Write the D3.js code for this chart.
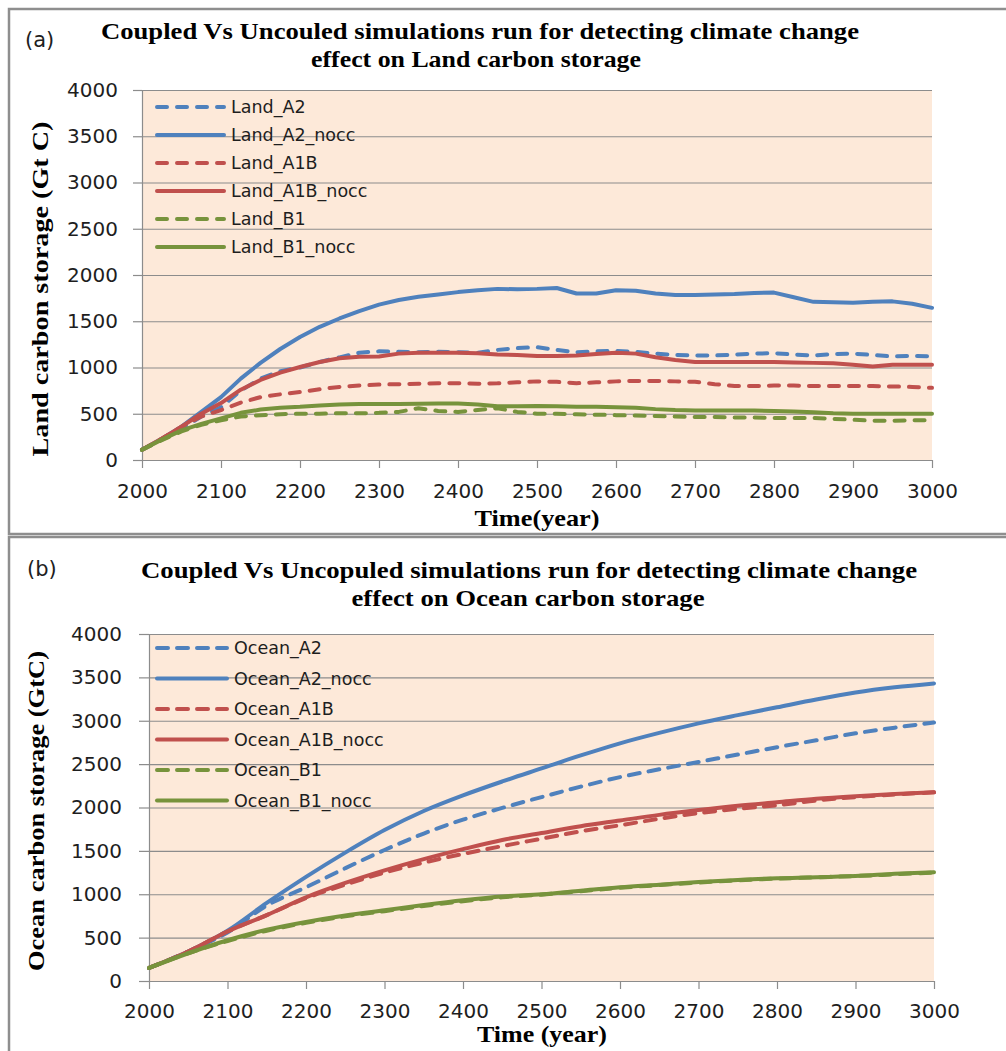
<!DOCTYPE html>
<html>
<head>
<meta charset="utf-8">
<script src="https://cdn.jsdelivr.net/npm/d3@7"></script>
<style>
  body { margin: 0; background: #ffffff; }
  svg { display: block; }
</style>
</head>
<body>
<svg id="chart" width="1006" height="1051"></svg>
<script>
// ---- Shared tick labels ----
const yTicks = [0, 500, 1000, 1500, 2000, 2500, 3000, 3500, 4000];
const xTicks = [2000, 2100, 2200, 2300, 2400, 2500, 2600, 2700, 2800, 2900, 3000];

// ---- Land carbon storage (Gt C), every 25 years ----
const landYears = [2000, 2025, 2050, 2075, 2100, 2125, 2150, 2175, 2200, 2225, 2250,
  2275, 2300, 2325, 2350, 2375, 2400, 2425, 2450, 2475, 2500, 2525, 2550, 2575, 2600,
  2625, 2650, 2675, 2700, 2725, 2750, 2775, 2800, 2825, 2850, 2875, 2900, 2925, 2950,
  2975, 3000];
const landNames = ["Land_A2", "Land_A2_nocc", "Land_A1B", "Land_A1B_nocc", "Land_B1", "Land_B1_nocc"];
const landA2 = [110, 220, 340, 470, 570, 750, 880, 960, 1000, 1060, 1110, 1160, 1175, 1170,
  1165, 1170, 1165, 1160, 1190, 1210, 1220, 1190, 1165, 1175, 1180, 1170, 1150, 1135, 1130,
  1130, 1140, 1150, 1155, 1140, 1130, 1145, 1150, 1135, 1120, 1125, 1120];
const landA2nocc = [110, 230, 360, 520, 680, 880, 1050, 1200, 1330, 1440, 1530, 1610, 1680,
  1730, 1765, 1790, 1815, 1835, 1850, 1845, 1850, 1860, 1800, 1800, 1835, 1830, 1800, 1785,
  1785, 1790, 1795, 1805, 1810, 1760, 1710, 1705, 1700, 1710, 1715, 1690, 1645];
const landA1B = [110, 230, 360, 470, 540, 620, 680, 710, 735, 765, 790, 805, 815, 820, 825,
  830, 830, 825, 830, 840, 850, 845, 830, 840, 850, 855, 855, 850, 845, 820, 800, 800, 805,
  805, 800, 800, 800, 800, 795, 790, 780];
const landA1Bnocc = [110, 230, 360, 500, 615, 760, 865, 945, 1005, 1060, 1100, 1115, 1120,
  1150, 1160, 1160, 1160, 1155, 1140, 1135, 1125, 1125, 1130, 1145, 1160, 1150, 1110, 1080,
  1060, 1060, 1060, 1060, 1060, 1055, 1050, 1045, 1030, 1010, 1030, 1030, 1030];
const landB1 = [110, 215, 310, 380, 430, 470, 485, 495, 500, 500, 505, 505, 510, 520, 560,
  530, 520, 540, 560, 520, 500, 500, 495, 490, 485, 480, 475, 470, 465, 465, 460, 460, 455,
  455, 455, 445, 435, 425, 425, 430, 430];
const landB1nocc = [110, 220, 320, 390, 450, 510, 545, 565, 575, 590, 600, 605, 605, 605,
  608, 610, 610, 600, 580, 580, 585, 580, 575, 575, 570, 565, 550, 540, 535, 535, 535, 535,
  530, 525, 515, 505, 500, 500, 500, 500, 500];

// ---- Ocean carbon storage (GtC), every 50 years ----
const oceanYears = [2000, 2050, 2100, 2150, 2200, 2250, 2300, 2350, 2400, 2450, 2500,
  2550, 2600, 2650, 2700, 2750, 2800, 2850, 2900, 2950, 3000];
const oceanNames = ["Ocean_A2", "Ocean_A2_nocc", "Ocean_A1B", "Ocean_A1B_nocc", "Ocean_B1", "Ocean_B1_nocc"];
const oceanA2 = [150, 340, 560, 870, 1080, 1300, 1510, 1700, 1860, 1995, 2120, 2240, 2350,
  2440, 2525, 2610, 2695, 2775, 2855, 2920, 2980];
const oceanA2nocc = [150, 340, 580, 900, 1200, 1480, 1740, 1960, 2140, 2300, 2450, 2600,
  2740, 2860, 2970, 3065, 3155, 3245, 3325, 3385, 3430];
const oceanA1B = [150, 340, 570, 760, 955, 1110, 1250, 1365, 1465, 1555, 1640, 1725, 1795,
  1870, 1935, 1985, 2025, 2080, 2120, 2150, 2175];
const oceanA1Bnocc = [150, 340, 570, 760, 965, 1130, 1275, 1405, 1520, 1625, 1705, 1785,
  1850, 1915, 1970, 2020, 2060, 2100, 2130, 2155, 2175];
const oceanB1 = [150, 320, 460, 580, 670, 745, 805, 865, 920, 965, 995, 1035, 1075, 1105,
  1135, 1160, 1180, 1195, 1210, 1230, 1250];
const oceanB1nocc = [150, 320, 470, 590, 680, 755, 815, 875, 930, 975, 1000, 1040, 1080,
  1110, 1140, 1165, 1185, 1195, 1210, 1235, 1255];

// Series styling: colour per scenario, dashed = coupled run, solid = no climate feedback
const seriesColors = ["#4f81bd", "#4f81bd", "#c0504d", "#c0504d", "#77933c", "#77933c"];
const seriesDashed = [true, false, true, false, true, false];

const svg = d3.select("#chart");
const GRID = "#8c8c8c";
const TEXT = "#1e1e1e";
const SANS = "'DejaVu Sans', sans-serif";
const SERIF = "'Liberation Serif', 'Times New Roman', serif";

// Panel frames
svg.append("rect").attr("x", 9).attr("y", 9).attr("width", 1100).attr("height", 525)
  .attr("fill", "none").attr("stroke", "#8e8e8e").attr("stroke-width", 2.5);
svg.append("rect").attr("x", 9).attr("y", 537).attr("width", 1100).attr("height", 600)
  .attr("fill", "none").attr("stroke", "#8e8e8e").attr("stroke-width", 2.5);

function drawPanel(cfg) {
  const g = svg.append("g");
  const x = d3.scaleLinear().domain([2000, 3000]).range([cfg.left, cfg.right]);
  const y = d3.scaleLinear().domain([0, 4000]).range([cfg.bottom, cfg.top]);

  // plot area
  g.append("rect")
    .attr("x", cfg.left).attr("y", cfg.top)
    .attr("width", cfg.right - cfg.left).attr("height", cfg.bottom - cfg.top)
    .attr("fill", "#fde9d9");

  // horizontal gridlines
  g.append("g").selectAll("line").data(yTicks.filter(d => d > 0)).join("line")
    .attr("x1", cfg.left).attr("x2", cfg.right)
    .attr("y1", d => y(d) + 0.5).attr("y2", d => y(d) + 0.5)
    .attr("stroke", GRID).attr("stroke-width", 1.2);

  // y axis
  const ya = g.append("g").attr("transform", `translate(${cfg.left},0)`)
    .call(d3.axisLeft(y).tickValues(yTicks).tickSize(cfg.yTickSize)
      .tickSizeOuter(0).tickPadding(cfg.yPad).tickFormat(d3.format("d")));
  ya.selectAll("path, line").attr("stroke", GRID).attr("stroke-width", 1.2);
  ya.selectAll("text").attr("font-family", SANS).attr("font-size", cfg.tickFont)
    .attr("fill", TEXT);

  // x axis
  const xa = g.append("g").attr("transform", `translate(0,${cfg.bottom})`)
    .call(d3.axisBottom(x).tickValues(xTicks).tickSize(cfg.xTickSize)
      .tickSizeOuter(0).tickPadding(cfg.xPad).tickFormat(d3.format("d")));
  xa.selectAll("path, line").attr("stroke", GRID).attr("stroke-width", 1.2);
  xa.selectAll("text").attr("font-family", SANS).attr("font-size", cfg.tickFont)
    .attr("fill", TEXT);

  // series lines
  const line = d3.line().x((d, i) => x(cfg.years[i])).y(d => y(d)).curve(cfg.curve);
  cfg.series.forEach((vals, i) => {
    g.append("path").datum(vals)
      .attr("d", line)
      .attr("fill", "none")
      .attr("stroke", seriesColors[i])
      .attr("stroke-width", 4)
      .attr("stroke-linecap", "round")
      .attr("stroke-linejoin", "round")
      .attr("stroke-dasharray", seriesDashed[i] ? cfg.dash : null);
  });

  // legend
  const lg = g.append("g");
  cfg.names.forEach((name, i) => {
    const ly = cfg.legendY + i * cfg.legendStep;
    lg.append("line")
      .attr("x1", cfg.legendX).attr("x2", cfg.legendX + cfg.legendLen)
      .attr("y1", ly).attr("y2", ly)
      .attr("stroke", seriesColors[i]).attr("stroke-width", 4)
      .attr("stroke-linecap", "round")
      .attr("stroke-dasharray", seriesDashed[i] ? cfg.dash : null);
    lg.append("text")
      .attr("x", cfg.legendX + cfg.legendLen + 7).attr("y", ly)
      .attr("dy", "0.36em")
      .attr("font-family", SANS).attr("font-size", cfg.legendFont)
      .attr("fill", TEXT).text(name);
  });

  // titles
  cfg.title.forEach(t => {
    g.append("text").attr("x", t.x).attr("y", t.y)
      .attr("text-anchor", "middle")
      .attr("font-family", SERIF).attr("font-weight", "bold").attr("font-size", 24)
      .attr("textLength", t.len).attr("lengthAdjust", "spacingAndGlyphs")
      .attr("fill", "#000").text(t.text);
  });
  g.append("text").attr("x", cfg.tag.x).attr("y", cfg.tag.y)
    .attr("font-family", SANS).attr("font-size", 21).attr("fill", TEXT)
    .text(cfg.tag.text);

  // axis titles
  g.append("text").attr("x", cfg.xTitle.x).attr("y", cfg.xTitle.y)
    .attr("text-anchor", "middle")
    .attr("font-family", SERIF).attr("font-weight", "bold").attr("font-size", 23)
    .attr("textLength", cfg.xTitle.len).attr("lengthAdjust", "spacingAndGlyphs")
    .attr("fill", "#000").text(cfg.xTitle.text);
  g.append("text")
    .attr("transform", `translate(${cfg.yTitle.x},${cfg.yTitle.y}) rotate(-90)`)
    .attr("text-anchor", "middle")
    .attr("font-family", SERIF).attr("font-weight", "bold").attr("font-size", 24)
    .attr("textLength", cfg.yTitle.len).attr("lengthAdjust", "spacingAndGlyphs")
    .attr("fill", "#000").text(cfg.yTitle.text);
}

drawPanel({
  left: 142, right: 932, top: 90, bottom: 460,
  yTickSize: 9, yPad: 15, xTickSize: 8, xPad: 16, tickFont: 20,
  years: landYears,
  series: [landA2, landA2nocc, landA1B, landA1Bnocc, landB1, landB1nocc],
  names: landNames,
  curve: d3.curveLinear,
  dash: "10 10",
  legendX: 157, legendLen: 67, legendY: 107, legendStep: 28, legendFont: 17.5,
  title: [
    { text: "Coupled Vs Uncouled simulations  run  for detecting climate change", x: 480, y: 39, len: 758 },
    { text: "effect on Land carbon storage", x: 476, y: 67, len: 330 }
  ],
  tag: { text: "(a)", x: 25, y: 47 },
  xTitle: { text: "Time(year)", x: 537, y: 526, len: 125 },
  yTitle: { text: "Land carbon storage (Gt C)", x: 48, y: 289, len: 335 }
});

drawPanel({
  left: 149, right: 934, top: 634, bottom: 981,
  yTickSize: 10, yPad: 17, xTickSize: 8, xPad: 15, tickFont: 20,
  years: oceanYears,
  series: [oceanA2, oceanA2nocc, oceanA1B, oceanA1Bnocc, oceanB1, oceanB1nocc],
  names: oceanNames,
  curve: d3.curveMonotoneX,
  dash: "11 9",
  legendX: 157, legendLen: 70, legendY: 648, legendStep: 30.5, legendFont: 17.5,
  title: [
    { text: "Coupled Vs Uncopuled simulations  run  for detecting climate change", x: 529, y: 578, len: 776 },
    { text: "effect on Ocean carbon storage", x: 528, y: 606, len: 353 }
  ],
  tag: { text: "(b)", x: 27, y: 576 },
  xTitle: { text: "Time (year)", x: 542, y: 1042, len: 130 },
  yTitle: { text: "Ocean carbon storage (GtC)", x: 44, y: 811, len: 320 }
});
</script>
</body>
</html>
